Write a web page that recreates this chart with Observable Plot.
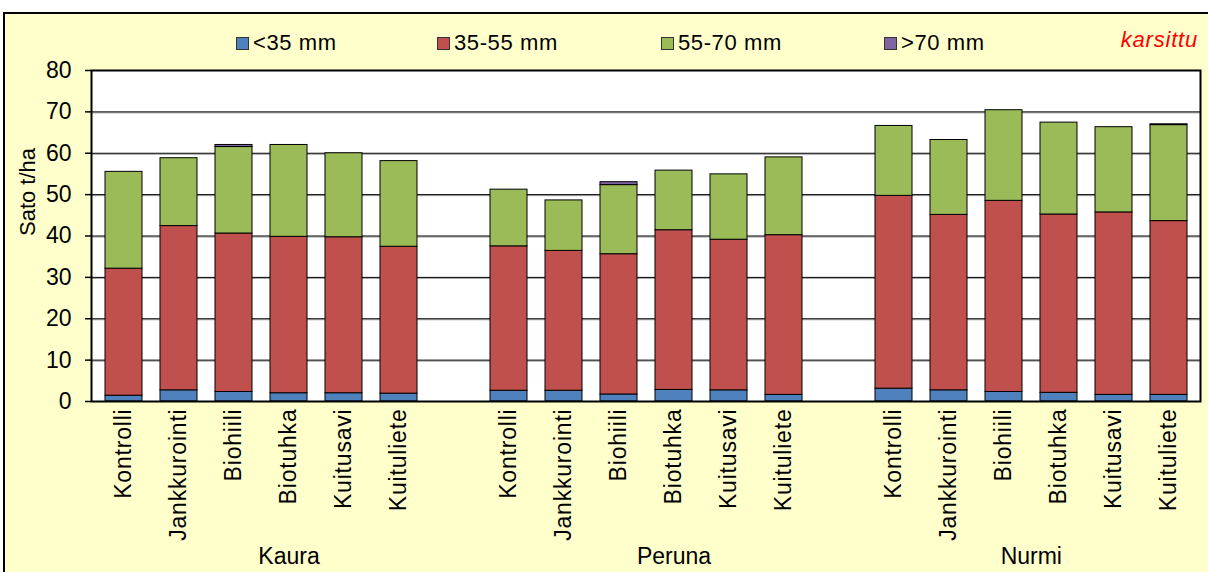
<!DOCTYPE html>
<html><head><meta charset="utf-8">
<script src="https://cdn.jsdelivr.net/npm/d3@7"></script>
<script src="https://cdn.jsdelivr.net/npm/@observablehq/plot@0.6"></script>
<style>
body{margin:0;background:#fff;}
#wrap{position:relative;width:1208px;height:572px;overflow:hidden;font-family:"Liberation Sans",Arial,sans-serif;}
#box{position:absolute;left:3px;top:12px;width:1230px;height:600px;background:#FFFFCC;border-left:2px solid #000;border-top:2px solid #000;}
#chart{position:absolute;left:0;top:0;}
.leg{position:absolute;top:31px;font-size:22px;line-height:24px;letter-spacing:0.6px;display:flex;align-items:center;color:#000;}
.sw{width:11px;height:11px;border:1px solid #333;margin-right:4px;}
#tag{position:absolute;top:28px;right:10px;font-size:22px;line-height:24px;letter-spacing:0.8px;color:#FF0000;font-style:italic;}
g[aria-label="x-axis tick label"] text, g[aria-label="group label"] text, g[aria-label="y label"] text{letter-spacing:0.8px;}
</style></head>
<body>
<div id="wrap">
  <div id="box"></div>
  <div id="chart"></div>
  <div id="legend"></div>
  <div id="tag">karsittu</div>
</div>
<script>
const groups = ["Kaura", "Peruna", "Nurmi"];
const treatments = ["Kontrolli", "Jankkurointi", "Biohiili", "Biotuhka", "Kuitusavi", "Kuituliete"];
const sizeClasses = ["<35 mm", "35-55 mm", "55-70 mm", ">70 mm"];
const classColors = ["#4F81BD", "#C0504D", "#9BBB59", "#8064A2"];
const yTicks = [0, 10, 20, 30, 40, 50, 60, 70, 80];
// bars in order: Kaura ×6, Peruna ×6, Nurmi ×6 (t/ha)
const under35    = [1.4, 2.7, 2.3, 2.0, 2.0, 1.9,   2.6, 2.6, 1.7, 2.8, 2.7, 1.6,   3.1, 2.7, 2.3, 2.1, 1.6, 1.6];
const from35to55 = [30.7, 39.7, 38.3, 37.8, 37.7, 35.5,   34.9, 33.8, 33.9, 38.6, 36.4, 38.6,   46.6, 42.4, 46.2, 43.1, 44.1, 42.0];
const from55to70 = [23.4, 16.4, 20.9, 22.2, 20.3, 20.7,   13.7, 12.2, 16.7, 14.4, 15.8, 18.8,   16.9, 18.1, 21.9, 22.2, 20.6, 23.2];
const over70     = [0, 0, 0.5, 0, 0, 0,   0, 0, 0.7, 0, 0, 0,   0, 0, 0, 0, 0, 0.2];
const series = [under35, from35to55, from55to70, over70];

// category keys, with an empty slot after Kaura and Peruna
const keys = [];
groups.forEach((g, gi) => {
  treatments.forEach(t => keys.push(g + "|" + t));
  if (gi < groups.length - 1) keys.push(g + "|");
});

const rows = [];
groups.forEach((g, gi) => treatments.forEach((t, ti) => {
  const i = gi * treatments.length + ti;
  sizeClasses.forEach((c, ci) => rows.push({key: g + "|" + t, cls: c, value: series[ci][i]}));
}));

const groupLabels = groups.map(g => ({key: g + "|Biotuhka", label: g}));

const chart = Plot.plot({
  width: 1208, height: 572,
  marginTop: 70, marginBottom: 171, marginLeft: 91, marginRight: 8,
  style: {fontFamily: '"Liberation Sans", Arial, sans-serif', fontSize: "23px", background: "transparent", color: "#000"},
  x: {domain: keys, paddingInner: 0.33, paddingOuter: 0.165, axis: null},
  y: {domain: [0, 80], axis: null},
  color: {domain: sizeClasses, range: classColors},
  marks: [
    Plot.frame({fill: "white", stroke: null}),
    Plot.ruleY(yTicks.slice(1, -1), {stroke: "#9a9a9a", dy: 1}),
    Plot.ruleY(yTicks, {stroke: "#000", strokeWidth: 1}),
    Plot.barY(rows.filter(d => d.value > 0), {x: "key", y: "value", fill: "cls", stroke: "#000", strokeWidth: 1}),
    Plot.frame({stroke: "#000", strokeWidth: 2}),
    Plot.axisY({ticks: yTicks, tickSize: 6, tickPadding: 14, fontSize: 23, label: null, stroke: "#000", strokeWidth: 1.5}),
    Plot.axisX({tickRotate: -90, tickSize: 0, tickPadding: 7, fontSize: 23, label: null,
      tickFormat: d => d.split("|")[1]}),
    Plot.text(groupLabels.slice(0, 2), {x: "key", text: "label", frameAnchor: "bottom", dy: 162, fontSize: 23, ariaLabel: "group label"}),
    Plot.text(groupLabels.slice(2), {x: "key", text: "label", frameAnchor: "bottom", dy: 162, dx: -27.7, fontSize: 23, ariaLabel: "group label"}),
    Plot.text(["Sato t/ha"], {frameAnchor: "left", rotate: -90, dx: -64, fontSize: 22, ariaLabel: "y label"})
  ]
});
document.getElementById("chart").appendChild(chart);

// legend
const legendX = [236, 437, 661, 884];
const legend = document.getElementById("legend");
sizeClasses.forEach((c, i) => {
  const item = document.createElement("div");
  item.className = "leg";
  item.style.left = legendX[i] + "px";
  const sw = document.createElement("div");
  sw.className = "sw";
  sw.style.background = classColors[i];
  const tx = document.createElement("span");
  tx.textContent = c;
  item.appendChild(sw); item.appendChild(tx);
  legend.appendChild(item);
});
</script>
</body></html>
